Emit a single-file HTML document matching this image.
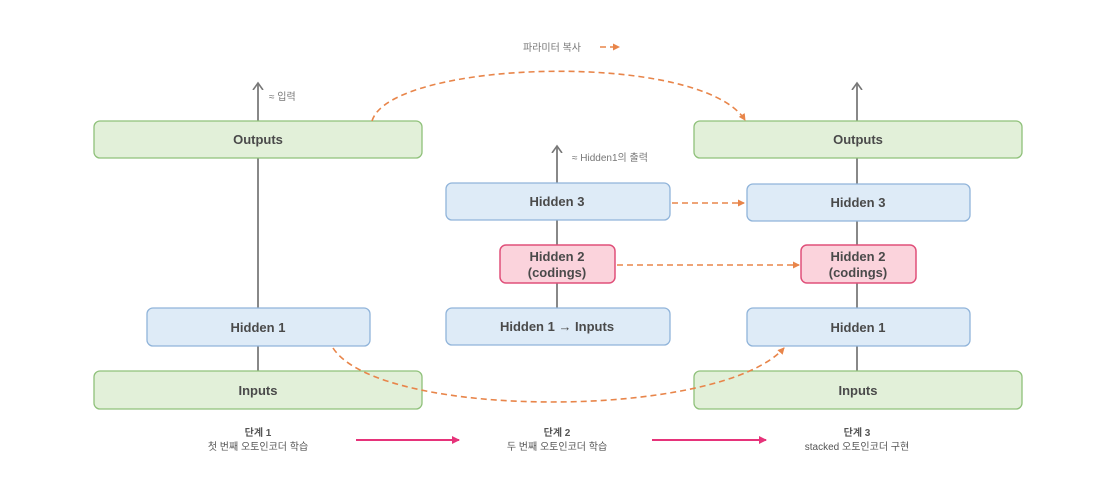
<!DOCTYPE html>
<html><head><meta charset="utf-8"><style>
body{margin:0;background:#fff;}
svg{display:block;font-family:"Liberation Sans","Noto Sans CJK KR",sans-serif;}
.g{fill:#e2f0d9;stroke:#8fc17a;stroke-width:1.3}
.b{fill:#deebf7;stroke:#90b4da;stroke-width:1.3}
.p{fill:#fbd3dc;stroke:#e0507a;stroke-width:1.5}
.t{font-size:13px;font-weight:bold;fill:#4a4a4a;text-anchor:middle}
.s{font-size:10px;fill:#777}
.l{stroke:#888;stroke-width:2;fill:none}
.o{stroke:#e8854a;stroke-width:1.6;fill:none;stroke-dasharray:6,4}
.st{font-size:10px;fill:#555;text-anchor:middle}
</style></head><body>
<svg width="1106" height="484" viewBox="0 0 1106 484">
<defs>
<marker id="ao" markerUnits="userSpaceOnUse" markerWidth="8" markerHeight="8" refX="6" refY="4" orient="auto"><path d="M0,0.5 L7,4 L0,7.5 z" fill="#e8854a"/></marker>
<marker id="ag" markerUnits="userSpaceOnUse" markerWidth="10" markerHeight="12" refX="7" refY="6" orient="auto"><path d="M0,1 L7,6 L0,11" stroke="#777" stroke-width="1.6" fill="none"/></marker>
<marker id="ap" markerUnits="userSpaceOnUse" markerWidth="10" markerHeight="10" refX="7" refY="5" orient="auto"><path d="M0,1 L8,5 L0,9 z" fill="#e6337a"/></marker>
</defs>
<line class="l" x1="258" y1="371" x2="258" y2="83" marker-end="url(#ag)"/>
<line class="l" x1="557" y1="308" x2="557" y2="146" marker-end="url(#ag)"/>
<line class="l" x1="857" y1="371" x2="857" y2="83" marker-end="url(#ag)"/>
<rect class="g" x="94" y="121" width="328" height="37" rx="6"/><text class="t" x="258" y="144">Outputs</text>
<rect class="b" x="147" y="308" width="223" height="38" rx="6"/><text class="t" x="258" y="332">Hidden 1</text>
<rect class="g" x="94" y="371" width="328" height="38" rx="6"/><text class="t" x="258" y="395">Inputs</text>
<text class="s" x="269" y="100">≈ 입력</text>
<rect class="b" x="446" y="183" width="224" height="37" rx="6"/><text class="t" x="557" y="206">Hidden 3</text>
<rect class="p" x="500" y="245" width="115" height="38" rx="6"/><text class="t" x="557" y="261">Hidden 2</text><text class="t" x="557" y="277">(codings)</text>
<rect class="b" x="446" y="308" width="224" height="37" rx="6"/><text class="t" x="557" y="331">Hidden 1 → Inputs</text>
<text class="s" x="572" y="161">≈ Hidden1의 출력</text>
<rect class="g" x="694" y="121" width="328" height="37" rx="6"/><text class="t" x="858" y="144">Outputs</text>
<rect class="b" x="747" y="184" width="223" height="37" rx="6"/><text class="t" x="858" y="207">Hidden 3</text>
<rect class="p" x="801" y="245" width="115" height="38" rx="6"/><text class="t" x="858" y="261">Hidden 2</text><text class="t" x="858" y="277">(codings)</text>
<rect class="b" x="747" y="308" width="223" height="38" rx="6"/><text class="t" x="858" y="332">Hidden 1</text>
<rect class="g" x="694" y="371" width="328" height="38" rx="6"/><text class="t" x="858" y="395">Inputs</text>
<path class="o" d="M372,121 C390,60 700,50 745,120" marker-end="url(#ao)"/>
<path class="o" d="M672,203 L744,203" marker-end="url(#ao)"/>
<path class="o" d="M617,265 L799,265" marker-end="url(#ao)"/>
<path class="o" d="M333,348 C380,420 720,420 784,348" marker-end="url(#ao)"/>
<text class="s" x="523" y="51">파라미터 복사</text>
<path class="o" d="M600,47 L619,47" marker-end="url(#ao)"/>
<text class="st" x="258" y="436" font-weight="bold">단계 1</text><text class="st" x="258" y="450">첫 번째 오토인코더 학습</text>
<text class="st" x="557" y="436" font-weight="bold">단계 2</text><text class="st" x="557" y="450">두 번째 오토인코더 학습</text>
<text class="st" x="857" y="436" font-weight="bold">단계 3</text><text class="st" x="857" y="450">stacked 오토인코더 구현</text>
<line x1="356" y1="440" x2="459" y2="440" stroke="#e6337a" stroke-width="2" marker-end="url(#ap)"/>
<line x1="652" y1="440" x2="766" y2="440" stroke="#e6337a" stroke-width="2" marker-end="url(#ap)"/>
</svg>
</body></html>
